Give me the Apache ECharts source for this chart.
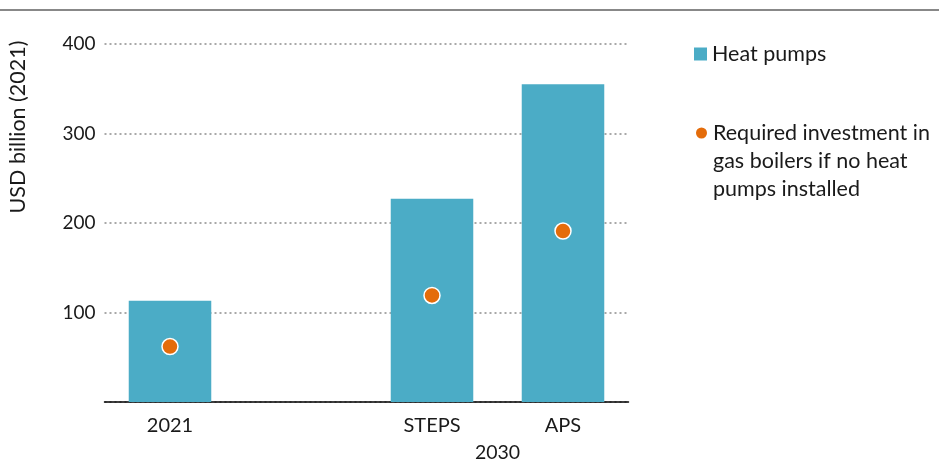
<!DOCTYPE html>
<html><head><meta charset="utf-8">
<script src="https://cdn.jsdelivr.net/npm/echarts@6/dist/echarts.min.js"></script>
<style>html,body{margin:0;padding:0;background:#fff}#c{width:939px;height:463px}</style>
</head><body><div id="c"></div>
<script>
const categories = ['2021', '', 'STEPS', 'APS'];
const heatPumps = [113, null, 227, 355];
const gasBoilers = [62, null, 119, 191];
const yTicks = [100, 200, 300, 400];
const groupLabels = {3: '2030'};

const FONT = 'Lato';
const TXT = '#1a1a1a';
const chart = echarts.init(document.getElementById('c'));
chart.setOption({
  animation: false,
  textStyle: {fontFamily: FONT},
  grid: {left: 104.5, right: 310.5, top: 44, bottom: 61},
  xAxis: [{
    type: 'category', data: categories,
    axisLine: {lineStyle: {color: '#000', width: 1.5}},
    axisTick: {show: false},
    axisLabel: {color: TXT, fontSize: 20, fontFamily: FONT, margin: 14}
  }, {
    type: 'value', min: 0, max: 4, interval: 1, position: 'bottom',
    axisLine: {show: false}, axisTick: {show: false}, splitLine: {show: false},
    axisLabel: {color: TXT, fontSize: 19.5, fontFamily: FONT, margin: 41,
      formatter: v => groupLabels[v] || ''}
  }],
  yAxis: {
    type: 'value', min: 0, max: 400, interval: 100,
    axisLine: {show: false}, axisTick: {show: false},
    axisLabel: {color: TXT, fontSize: 19, fontFamily: FONT, margin: 9,
      formatter: v => yTicks.includes(v) ? String(v) : ''},
    splitLine: {lineStyle: {type: [2, 3], color: '#8c8c8c', width: 1.5}}
  },
  legend: [{
    left: 694, top: 40, padding: 0, orient: 'vertical', icon: 'rect', itemWidth: 13, itemHeight: 13,
    textStyle: {color: TXT, fontSize: 21.5, fontFamily: FONT, lineHeight: 28},
    data: ['Heat pumps']
  }, {
    left: 694, top: 63, padding: 0, orient: 'vertical', icon: 'circle', itemWidth: 13, itemHeight: 13,
    textStyle: {color: TXT, fontSize: 21.5, fontFamily: FONT, lineHeight: 28},
    formatter: () => ' \n \nRequired investment in\ngas boilers if no heat\npumps installed',
    data: ['Required investment in gas boilers if no heat pumps installed']
  }],
  graphic: [{
    type: 'line', shape: {x1: 0, y1: 10, x2: 939, y2: 10},
    style: {stroke: '#888', lineWidth: 2}
  }, {
    type: 'text', x: 18, y: 127, rotation: Math.PI / 2,
    style: {text: 'USD billion (2021)', fontSize: 21.5, fontFamily: FONT, fill: TXT,
      align: 'center', verticalAlign: 'middle'}
  }],
  series: [{
    name: 'Heat pumps', type: 'bar', data: heatPumps, barWidth: '63%',
    itemStyle: {color: '#4BACC6'}
  }, {
    name: 'Required investment in gas boilers if no heat pumps installed',
    type: 'scatter', data: gasBoilers, symbolSize: 16,
    itemStyle: {color: '#E46C0A', borderColor: '#fff', borderWidth: 1.5, opacity: 1}
  }]
});
</script></body></html>
